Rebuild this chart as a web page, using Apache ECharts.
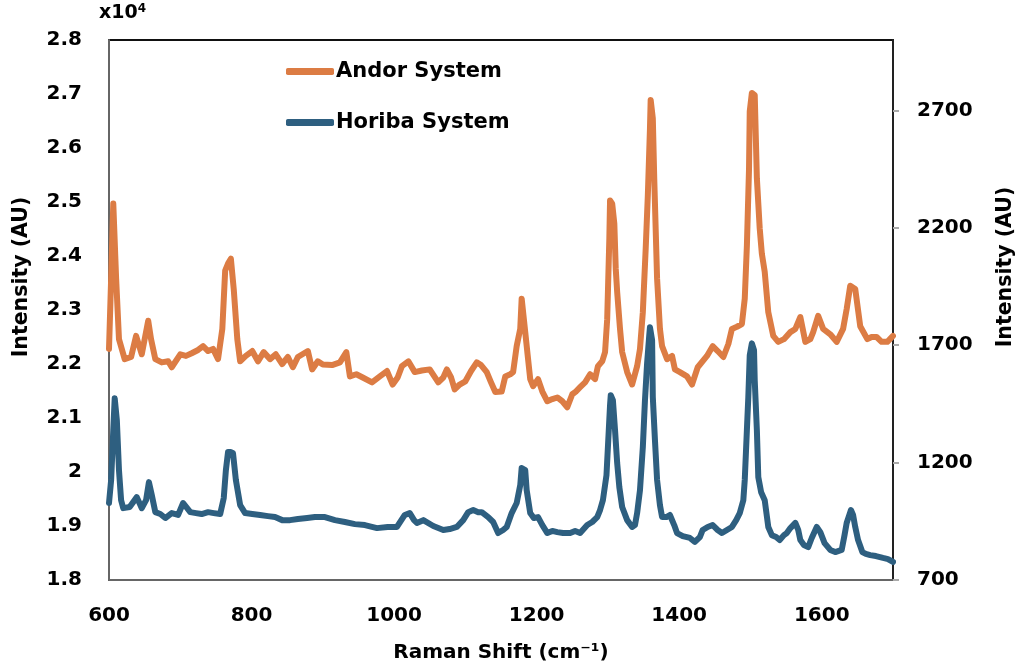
<!DOCTYPE html>
<html>

<head>
    <title>Raman spectra</title>
    <meta charset="utf-8">
    <script src="https://cdn.jsdelivr.net/npm/echarts@6/dist/echarts.min.js"></script>
    <style>
        body { margin: 0; background: #fff; }
    </style>
</head>

<body>
    <div id="main" style="width: 1022px;height:672px;"></div>

    <script type="text/javascript">
        // Andor System (left axis, raw counts)
        var andorShift = [600, 603, 606, 610, 614, 622, 631, 638, 646, 655, 659, 665, 674, 683, 688, 700, 708, 716, 725, 732,
            739, 746, 753, 759, 763, 767, 771, 775, 780, 784, 792, 801, 809, 817, 826, 834, 843, 851, 858, 865,
            879, 885, 893, 900, 913, 924, 933, 938, 947, 956, 969, 980, 990, 998, 1005, 1011, 1020, 1029, 1039, 1050,
            1062, 1069, 1074, 1080, 1085, 1092, 1100, 1108, 1116, 1122, 1130, 1136, 1142, 1151, 1156, 1163, 1167, 1172, 1177, 1179,
            1184, 1188, 1191, 1195, 1202, 1208, 1215, 1222, 1229, 1236, 1243, 1250, 1255, 1261, 1268, 1275, 1282, 1286, 1292, 1296,
            1299, 1302, 1303, 1306, 1309, 1311, 1313, 1317, 1320, 1327, 1334, 1341, 1345, 1349, 1353, 1356, 1359, 1360, 1363, 1365,
            1369, 1373, 1376, 1383, 1390, 1394, 1401, 1411, 1418, 1426, 1439, 1447, 1454, 1462, 1469, 1474, 1481, 1488, 1492, 1495,
            1498, 1499, 1502, 1506, 1509, 1513, 1516, 1520, 1525, 1532, 1539, 1547, 1556, 1563, 1570, 1577, 1584, 1588, 1595, 1602,
            1612, 1621, 1630, 1635, 1640, 1647, 1654, 1664, 1670, 1677, 1684, 1692, 1700];
        var andorIntensity = [22280, 23580, 24970, 23580, 22460, 22090, 22130, 22520, 22180, 22800, 22460, 22090, 22030, 22050, 21940, 22180, 22150, 22200, 22260, 22330,
            22240, 22280, 22090, 22650, 23730, 23860, 23950, 23390, 22460, 22050, 22150, 22240, 22050, 22220, 22090, 22180, 22000, 22130, 21940, 22130,
            22240, 21900, 22050, 21990, 21980, 22030, 22220, 21770, 21810, 21750, 21660, 21770, 21870, 21620, 21750, 21960, 22050, 21850, 21880, 21900,
            21660, 21750, 21900, 21750, 21530, 21620, 21680, 21870, 22030, 21980, 21850, 21660, 21480, 21490, 21770, 21810, 21850, 22330, 22650, 23210,
            22590, 22090, 21720, 21590, 21720, 21490, 21310, 21350, 21380, 21310, 21200, 21440, 21490, 21570, 21660, 21810, 21720, 21960, 22050, 22220,
            22830, 24320, 25030, 24970, 24600, 23760, 23330, 22650, 22220, 21850, 21620, 21960, 22280, 22960, 24130, 25120, 26360, 26890, 26550, 25440,
            23580, 22650, 22330, 22090, 22150, 21900, 21850, 21770, 21620, 21940, 22150, 22330, 22240, 22130, 22370, 22650, 22690, 22740, 23210, 24190,
            25620, 26680, 27020, 26980, 25440, 24510, 24040, 23710, 22960, 22520, 22410, 22460, 22590, 22650, 22870, 22410, 22460, 22590, 22890, 22650,
            22550, 22410, 22650, 23020, 23450, 23390, 22700, 22460, 22500, 22500, 22410, 22410, 22520];

        // Horiba System (right axis)
        var horibaShift = [600, 603, 606, 608, 611, 614, 617, 620, 629, 639, 646, 652, 656, 660, 665, 672, 679, 688, 697, 704,
            714, 722, 730, 739, 747, 756, 761, 764, 767, 771, 774, 778, 784, 791, 801, 812, 823, 833, 843, 854,
            865, 878, 889, 903, 917, 931, 945, 959, 976, 991, 1004, 1015, 1022, 1028, 1032, 1041, 1055, 1069, 1078, 1088,
            1097, 1104, 1111, 1118, 1123, 1132, 1139, 1146, 1153, 1158, 1165, 1172, 1177, 1179, 1184, 1186, 1191, 1196, 1202, 1208,
            1215, 1222, 1229, 1237, 1247, 1254, 1261, 1271, 1278, 1285, 1289, 1293, 1298, 1300, 1303, 1304, 1307, 1310, 1313, 1316,
            1320, 1327, 1334, 1338, 1341, 1345, 1349, 1352, 1355, 1358, 1359, 1362, 1363, 1366, 1369, 1373, 1376, 1382, 1387, 1393,
            1397, 1405, 1415, 1422, 1429, 1433, 1440, 1447, 1454, 1460, 1467, 1474, 1480, 1485, 1490, 1492, 1495, 1497, 1499, 1502,
            1505, 1506, 1509, 1511, 1515, 1520, 1525, 1530, 1536, 1541, 1547, 1551, 1556, 1563, 1567, 1570, 1575, 1581, 1586, 1593,
            1598, 1604, 1612, 1619, 1628, 1632, 1635, 1640, 1641, 1644, 1647, 1651, 1657, 1662, 1668, 1676, 1686, 1693, 1700];
        var horibaIntensity = [1028, 1126, 1338, 1474, 1381, 1168, 1040, 1006, 1011, 1053, 1006, 1040, 1117, 1062, 989, 981, 964, 985, 977, 1028,
            989, 985, 981, 989, 985, 981, 1049, 1168, 1245, 1245, 1240, 1126, 1019, 985, 981, 977, 972, 968, 955, 955,
            960, 964, 968, 968, 955, 947, 938, 934, 921, 926, 926, 977, 985, 955, 943, 955, 930, 913, 917, 926,
            955, 989, 998, 989, 989, 968, 947, 900, 913, 926, 985, 1028, 1104, 1177, 1168, 1083, 985, 964, 968, 934,
            900, 909, 904, 900, 900, 909, 900, 934, 947, 968, 998, 1040, 1147, 1266, 1445, 1487, 1466, 1338, 1198, 1096,
            1011, 955, 926, 934, 985, 1083, 1266, 1466, 1623, 1742, 1777, 1721, 1479, 1296, 1126, 1019, 968, 968, 977, 934,
            900, 887, 879, 862, 883, 913, 926, 934, 913, 900, 913, 926, 955, 985, 1040, 1126, 1338, 1479, 1657, 1708,
            1679, 1551, 1338, 1138, 1074, 1040, 926, 891, 883, 870, 891, 900, 921, 943, 913, 870, 849, 840, 879, 926,
            904, 857, 828, 819, 828, 891, 943, 989, 998, 977, 926, 870, 819, 811, 806, 802, 794, 789, 777];

        var leftTicks = { min: 18000, max: 28000, step: 1000 };
        var rightTicks = { min: 700, max: 3000, step: 500 };
        var shiftTicks = { min: 600, max: 1700, step: 200 };

        function pairs(xs, ys) {
            var out = [];
            for (var i = 0; i < xs.length; i++) out.push([xs[i], ys[i]]);
            return out;
        }

        var font = 'DejaVu Sans';
        var labelStyle = { color: '#000', fontFamily: font, fontWeight: 'bold', fontSize: 20 };

        var myChart = echarts.init(document.getElementById('main'));

        var option = {
            animation: false,
            backgroundColor: '#fff',
            grid: {
                left: 109, right: 129, top: 40, bottom: 92,
                show: true, borderColor: '#111', borderWidth: 2
            },
            legend: {
                orient: 'vertical',
                left: 281, top: 56,
                itemWidth: 48, itemHeight: 7, itemGap: 30,
                icon: 'roundRect',
                textStyle: { color: '#000', fontFamily: font, fontWeight: 'bold', fontSize: 21, padding: [0, 0, 0, -3] },
                data: ['Andor System', 'Horiba System']
            },
            xAxis: {
                type: 'value',
                min: shiftTicks.min, max: shiftTicks.max, interval: shiftTicks.step,
                name: 'Raman Shift (cm\u207B\u00B9)',
                nameLocation: 'middle', nameGap: 63,
                nameTextStyle: { color: '#000', fontFamily: font, fontWeight: 'bold', fontSize: 20 },
                axisLine: { lineStyle: { color: '#666', width: 2 } },
                axisTick: { show: false },
                splitLine: { show: false },
                axisLabel: Object.assign({
                    margin: 26, showMaxLabel: false,
                    formatter: function(v) { return String(v); }
                }, labelStyle)
            },
            yAxis: [{
                type: 'value',
                position: 'left',
                min: leftTicks.min, max: leftTicks.max, interval: leftTicks.step,
                axisLine: { show: true, lineStyle: { color: '#666', width: 2 } },
                axisTick: { show: false },
                splitLine: { show: false },
                axisLabel: Object.assign({
                    margin: 27,
                    formatter: function(v) { return String(Math.round(v / 100) / 100); }
                }, labelStyle)
            }, {
                type: 'value',
                position: 'right',
                min: rightTicks.min, max: rightTicks.max, interval: rightTicks.step,
                axisLine: { show: true, lineStyle: { color: '#222', width: 2 } },
                axisTick: { show: true, length: 6, lineStyle: { color: '#aaa', width: 2 } },
                splitLine: { show: false },
                axisLabel: Object.assign({
                    margin: 24, showMaxLabel: false,
                    formatter: function(v) { return String(v); }
                }, labelStyle)
            }],
            graphic: [{
                type: 'text', left: 99, top: 3,
                style: {
                    text: '{a|x10}{b|4}',
                    rich: {
                        a: { fontFamily: font, fontWeight: 'bold', fontSize: 19, fill: '#000' },
                        b: { fontFamily: font, fontWeight: 'bold', fontSize: 12, fill: '#000', verticalAlign: 'top', padding: [0, 0, 8, 0] }
                    }
                }
            }, {
                type: 'text', x: 22, y: 277, rotation: Math.PI / 2,
                style: {
                    text: 'Intensity (AU)', textAlign: 'center', textVerticalAlign: 'middle',
                    fontFamily: font, fontWeight: 'bold', fontSize: 20.5, fill: '#000'
                }
            }, {
                type: 'text', x: 1006, y: 267, rotation: Math.PI / 2,
                style: {
                    text: 'Intensity (AU)', textAlign: 'center', textVerticalAlign: 'middle',
                    fontFamily: font, fontWeight: 'bold', fontSize: 20.5, fill: '#000'
                }
            }],
            series: [{
                name: 'Andor System',
                type: 'line',
                yAxisIndex: 0,
                showSymbol: false,
                color: '#DC7C44',
                lineStyle: { width: 6, color: '#DC7C44', join: 'round', cap: 'round' },
                data: pairs(andorShift, andorIntensity)
            }, {
                name: 'Horiba System',
                type: 'line',
                yAxisIndex: 1,
                showSymbol: false,
                color: '#2E5F80',
                lineStyle: { width: 6, color: '#2E5F80', join: 'round', cap: 'round' },
                data: pairs(horibaShift, horibaIntensity)
            }]
        };

        myChart.setOption(option);
    </script>
</body>

</html>
